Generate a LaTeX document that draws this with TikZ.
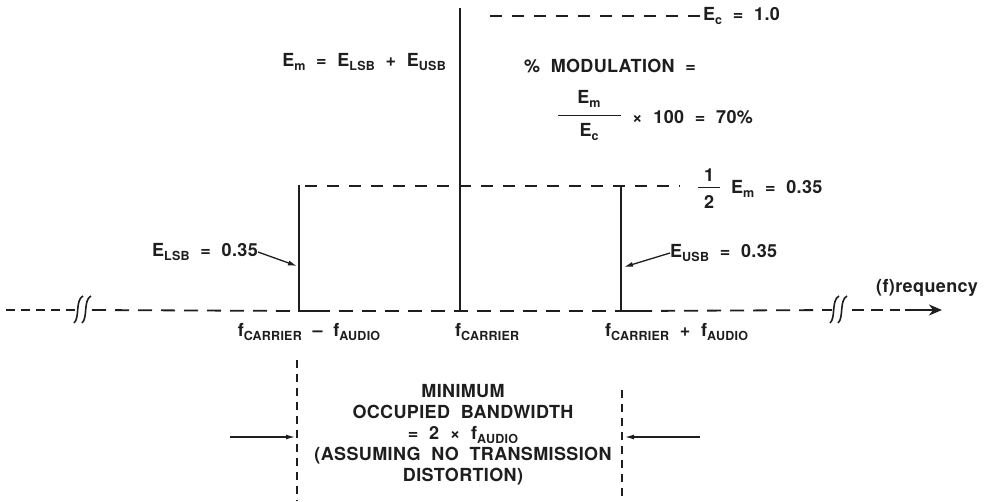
\documentclass[tikz,border=0pt]{standalone}
\usepackage{fontspec}
\setmainfont[WordSpace=2,LetterSpace=2]{TeX Gyre Heros}
\usetikzlibrary{arrows.meta}
\definecolor{ink}{HTML}{1E1E1E}
\newcommand\lo[1]{\raisebox{-0.35ex}{\fontsize{12.5}{12.5}\selectfont #1}}
\begin{document}
\begin{tikzpicture}[x=1pt,y=-1pt,
  txt/.style={font=\bfseries\fontsize{18}{21}\selectfont, inner sep=0pt, text=ink},
  sig/.style={line width=2.6pt, draw=ink},
  axdash/.style={line width=1.8pt, draw=ink, dash pattern=on 14pt off 9pt},
  lvl/.style={line width=1.6pt, draw=ink, dash pattern=on 12pt off 10pt},
  vdash/.style={line width=1.6pt, draw=ink, dash pattern=on 8pt off 6pt},
  brk/.style={line width=1.6pt, draw=ink},
  ptr/.style={line width=1.3pt, draw=ink, -{Latex[length=9pt,width=5pt]}},
  bar/.style={line width=0.8pt, draw=ink}]
\useasboundingbox (0,0) rectangle (988,501);

% signal lines
\coordinate (Lt) at (299,185); \coordinate (Lb) at (299,311); \coordinate (Lf) at (316,311);
\coordinate (Ct) at (460,8);   \coordinate (Cb) at (460,311);
\coordinate (Rt) at (621,185); \coordinate (Rb) at (621,311); \coordinate (Rf) at (638,311);
\draw[sig] (Lt) -- (Lb) -- (Lf);
\draw[sig] (Ct) -- (Cb);
\draw[sig] (Rt) -- (Rb) -- (Rf);

% axis
\coordinate (a0) at (6,310); \coordinate (a1) at (76,310);
\coordinate (a2) at (92,310);
\coordinate (a3) at (832,310); \coordinate (a4) at (852,310);
\coordinate (a5) at (900,310); \coordinate (a6) at (942,310);
\draw[axdash, dash pattern=on 9pt off 6pt] (a0) -- (a1);
\draw[axdash] (a2) -- (Lb);
\draw[axdash] (Lf) -- (Rb);
\draw[axdash] (Rf) -- (a3);
\draw[axdash, dash pattern=on 12pt off 7pt] (a4) -- (a5);
\draw[line width=1.8pt, draw=ink, -{Stealth[length=13pt,width=11pt,inset=4pt]}] (905,310) -- (a6);

% breaks
\foreach \bx in {74,82,830,838}{
  \draw[brk] (\bx,323) .. controls (\bx+6,318) and (\bx+1,300) .. (\bx+9,296);
}

% level lines
\coordinate (Ec0) at (490,16); \coordinate (Ec1) at (700,16);
\draw[lvl] (Ec0) -- (Ec1);
\node[txt, anchor=west] (ec) at (703,16) {E\lo{c} = 1.0};
\coordinate (M0) at (305,186); \coordinate (M1) at (680,186);
\draw[lvl] (M0) -- (M1);

% texts upper
\node[txt, anchor=east] (emsum) at (446,62) {E\lo{m} = E\lo{LSB} + E\lo{USB}};
\node[txt] (pmod) at (610,66) {\% MODULATION =};
\node[txt] (fnum) at (589,99) {E\lo{m}};
\draw[bar] (558,115) -- (621,115);
\node[txt] (fden) at (589,132) {E\lo{c}};
\node[txt, anchor=west] (times) at (632,117) {× 100 = 70\%};

\node[txt] (one) at (709,175) {1};
\draw[bar] (698,187) -- (720,187);
\node[txt] (two) at (709,202) {2};
\node[txt, anchor=west] (half) at (731,189) {E\lo{m} = 0.35};

% sideband labels
\node[txt, anchor=east] (elsb) at (258,252) {E\lo{LSB} = 0.35};
\coordinate (lsbtip) at (297,266);
\draw[ptr] (elsb.east) -- (lsbtip);
\node[txt, anchor=west] (eusb) at (670,253) {E\lo{USB} = 0.35};
\coordinate (usbtip) at (624,267);
\draw[ptr] (eusb.west) -- (usbtip);

% axis labels
\node[txt] (fl) at (309,332) {f\lo{CARRIER} -- f\lo{AUDIO}};
\node[txt, anchor=west] (fc) at (455,332) {f\lo{CARRIER}};
\node[txt, anchor=west] (fr) at (605,332) {f\lo{CARRIER} + f\lo{AUDIO}};
\node[txt, anchor=west] (freq) at (876,288) {(f)requency};

% bandwidth
\coordinate (v1a) at (297,360); \coordinate (v1b) at (297,501);
\coordinate (v2a) at (622,390); \coordinate (v2b) at (622,501);
\draw[vdash] (v1a) -- (v1b);
\draw[vdash] (v2a) -- (v2b);
\coordinate (la) at (230,437); \coordinate (lb) at (295,437);
\coordinate (ra) at (700,437); \coordinate (rb) at (625,437);
\draw[ptr] (la) -- (lb);
\draw[ptr] (ra) -- (rb);
\node[txt, align=center] (bw) at (463,435) {MINIMUM\\OCCUPIED BANDWIDTH\\= 2 × f\lo{AUDIO}\\(ASSUMING NO TRANSMISSION\\DISTORTION)};
\end{tikzpicture}
\end{document}
